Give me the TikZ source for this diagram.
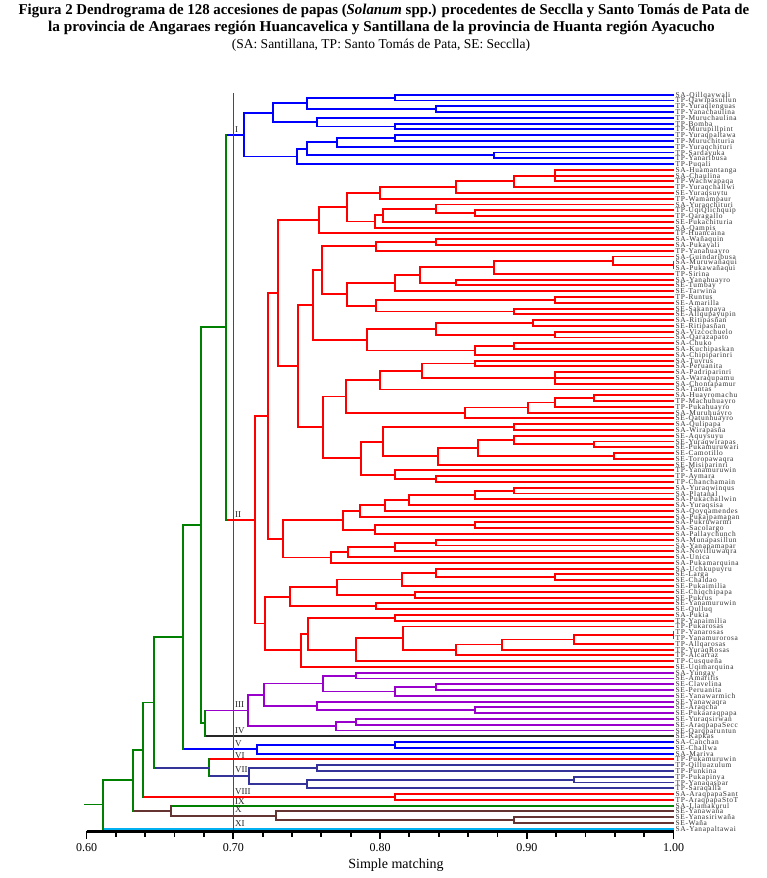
\documentclass[tikz,border=0pt]{standalone}
\usepackage{fontspec}
\usepackage{graphicx}
\setmainfont{Liberation Serif}
\newfontfamily\dlabfont[LetterSpace=8]{Liberation Serif}
\definecolor{cblue}{RGB}{0,0,255}
\definecolor{cpurple}{RGB}{153,0,204}
\definecolor{cnavy}{RGB}{51,51,153}
\definecolor{cgreen}{RGB}{0,128,0}
\definecolor{cbrown}{RGB}{102,51,51}
\definecolor{ccyan}{RGB}{0,176,240}
\tikzset{
 br/.style={line width=1.9pt,line cap=rect},
 clI/.style={draw=cblue},
 clII/.style={draw=red},
 clIII/.style={draw=cpurple},
 clIV/.style={draw=black!85,dash pattern=on 1pt off 0.7pt},
 clVI/.style={draw=red,dash pattern=on 1.4pt off 0.6pt},
 clVII/.style={draw=cnavy},
 clIX/.style={draw=cgreen},
 clX/.style={draw=cbrown},
 clXI/.style={draw=ccyan},
 clG/.style={draw=cgreen},
 leaflab/.style={anchor=base west,inner sep=0pt,xshift=2pt,yshift=-2.5pt,text=black!80,font=\dlabfont\fontsize{7.4}{8}\selectfont},
 cllab/.style={anchor=west,inner sep=0pt,text=black!85,font=\fontsize{9}{10}\selectfont},
 ticklab/.style={inner sep=0pt,font=\fontsize{12}{13}\selectfont},
}
\newcommand\dleaf[3]{%
  \pgfmathsetmacro\dtmpy{94.7+(#1-1)*5.78}%
  \expandafter\xdef\csname dny@L#1\endcsname{\dtmpy}%
  \expandafter\xdef\csname dnc@L#1\endcsname{#3}%
  \coordinate (L#1) at (673.5,\dtmpy);%
  \node[leaflab] (T#1) at (L#1) {#2};%
}
\newcommand\djx[6]{%
  \pgfmathsetmacro\dtmpy{(\csname dny@#3\endcsname+\csname dny@#4\endcsname)/2}%
  \expandafter\xdef\csname dny@#1\endcsname{\dtmpy}%
  \expandafter\xdef\csname dnc@#1\endcsname{#6}%
  \coordinate (#1) at (#2,\dtmpy);%
  \edef\dtmpcmd{%
    \noexpand\draw[br,\csname dnc@#3\endcsname] (#1 |- #3) -- (#3);%
    \noexpand\draw[br,\csname dnc@#4\endcsname] (#1 |- #4) -- (#4);%
    \noexpand\draw[br,#5] (#1 |- #3) -- (#1 |- #4);%
  }\dtmpcmd
}
\newcommand\djn[5]{\djx{#1}{#2}{#3}{#4}{#5}{#5}}
\newcommand\djt[6]{%
  \pgfmathsetmacro\dtmpy{(\csname dny@#3\endcsname+\csname dny@#5\endcsname)/2}%
  \expandafter\xdef\csname dny@#1\endcsname{\dtmpy}%
  \expandafter\xdef\csname dnc@#1\endcsname{#6}%
  \coordinate (#1) at (#2,\dtmpy);%
  \draw[br,#6] (#1 |- #3) -- (#3);%
  \draw[br,#6] (#1 |- #4) -- (#4);%
  \draw[br,#6] (#1 |- #5) -- (#5);%
  \draw[br,#6] (#1 |- #3) -- (#1 |- #5);%
}
\begin{document}
\begin{tikzpicture}[x=1pt,y=-1pt]
\useasboundingbox (0,0) rectangle (766,878);
\fill[white] (0,0) rectangle (766,878);
% title
\node[font=\bfseries\fontsize{15}{17}\selectfont,inner sep=0pt] (title1) at (384,11) {\scalebox{0.99}[1]{Figura 2 Dendrograma de 128 accesiones de papas (\textit{Solanum} spp.) procedentes de Secclla y Santo Tomás de Pata de}};
\node[font=\bfseries\fontsize{15}{17}\selectfont,inner sep=0pt] (title2) at (381.5,28) {\scalebox{1.02}[1]{la provincia de Angaraes región Huancavelica y Santillana de la provincia de Huanta región Ayacucho}};
\node[font=\fontsize{13.5}{15}\selectfont,inner sep=0pt] (title3) at (381,45) {(SA: Santillana, TP: Santo Tomás de Pata, SE: Secclla)};
% leaves
\dleaf{1}{SA-Qillqaywali}{clI}
\dleaf{2}{TP-Qawipasullun}{clI}
\dleaf{3}{TP-Yuraqlenguas}{clI}
\dleaf{4}{TP-Yanachaulina}{clI}
\dleaf{5}{TP-Muruchaulina}{clI}
\dleaf{6}{TP-Bomba}{clI}
\dleaf{7}{TP-Murupillpint}{clI}
\dleaf{8}{TP-Yuraqpaltawa}{clI}
\dleaf{9}{TP-Muruchituria}{clI}
\dleaf{10}{TP-Yuraqchituri}{clI}
\dleaf{11}{TP-Sardayuka}{clI}
\dleaf{12}{TP-Yanaribusa}{clI}
\dleaf{13}{TP-Puqali}{clI}
\dleaf{14}{SA-Huamantanga}{clII}
\dleaf{15}{SA-Chaulina}{clII}
\dleaf{16}{TP-Wachwapaqa}{clII}
\dleaf{17}{TP-Yuraqchallwi}{clII}
\dleaf{18}{SE-Yuraqsuytu}{clII}
\dleaf{19}{TP-Wamampaur}{clII}
\dleaf{20}{SA-Yuraqchituri}{clII}
\dleaf{21}{TP-UqiQiichquip}{clII}
\dleaf{22}{TP-Qaragallo}{clII}
\dleaf{23}{SE-Pukachituria}{clII}
\dleaf{24}{SA-Qampis}{clII}
\dleaf{25}{TP-Huancaina}{clII}
\dleaf{26}{SA-Wañaquin}{clII}
\dleaf{27}{SA-Pukayali}{clII}
\dleaf{28}{TP-Yanahuayro}{clII}
\dleaf{29}{SA-Guindaribusa}{clII}
\dleaf{30}{SA-Muruwañaqui}{clII}
\dleaf{31}{SA-Pukawañaqui}{clII}
\dleaf{32}{TP-Sirina}{clII}
\dleaf{33}{SA-Yanahuayro}{clII}
\dleaf{34}{SE-Tumbay}{clII}
\dleaf{35}{SE-Tarwina}{clII}
\dleaf{36}{TP-Runtus}{clII}
\dleaf{37}{SE-Amarilla}{clII}
\dleaf{38}{SE-Sakanpaya}{clII}
\dleaf{39}{SE-Allqupayupin}{clII}
\dleaf{40}{SA-Ritipasñan}{clII}
\dleaf{41}{SE-Ritipasñan}{clII}
\dleaf{42}{SA-Vizcochuelo}{clII}
\dleaf{43}{SA-Qarazapato}{clII}
\dleaf{44}{SA-Chuko}{clII}
\dleaf{45}{SA-Kuchipaskan}{clII}
\dleaf{46}{SA-Chipiparinri}{clII}
\dleaf{47}{SA-Tuyrus}{clII}
\dleaf{48}{SA-Peruanita}{clII}
\dleaf{49}{SA-Padriparinri}{clII}
\dleaf{50}{SA-Waraqupamu}{clII}
\dleaf{51}{SA-Chontapamur}{clII}
\dleaf{52}{SA-Tantas}{clII}
\dleaf{53}{SA-Huayromachu}{clII}
\dleaf{54}{TP-Machuhuayro}{clII}
\dleaf{55}{TP-Pukahuayro}{clII}
\dleaf{56}{SA-Muruhuayro}{clII}
\dleaf{57}{SE-Qatunhuayro}{clII}
\dleaf{58}{SA-Qulipapa}{clII}
\dleaf{59}{SA-Wirapasña}{clII}
\dleaf{60}{SE-Aquysuyu}{clII}
\dleaf{61}{SE-Yuraqwirapas}{clII}
\dleaf{62}{SE-Pukamuruwari}{clII}
\dleaf{63}{SE-Camotillo}{clII}
\dleaf{64}{SE-Toropawaqra}{clII}
\dleaf{65}{SE-Misiparinri}{clII}
\dleaf{66}{TP-Yanamuruwin}{clII}
\dleaf{67}{TP-Aymara}{clII}
\dleaf{68}{TP-Chanchamain}{clII}
\dleaf{69}{SA-Yuraqwinqus}{clII}
\dleaf{70}{SA-Platanal}{clII}
\dleaf{71}{SA-Pukachallwin}{clII}
\dleaf{72}{SA-Yuraqsisa}{clII}
\dleaf{73}{SA-Qoyqamendes}{clII}
\dleaf{74}{SA-Pukajpamapan}{clII}
\dleaf{75}{SA-Pukruwarmi}{clII}
\dleaf{76}{SA-Sacolargo}{clII}
\dleaf{77}{SA-Pallaychunch}{clII}
\dleaf{78}{SA-Munapasillun}{clII}
\dleaf{79}{SA-Yanapamapar}{clII}
\dleaf{80}{SA-Novilluwaqra}{clII}
\dleaf{81}{SA-Unica}{clII}
\dleaf{82}{SA-Pukamarquina}{clII}
\dleaf{83}{SA-Uchkupuyru}{clII}
\dleaf{84}{SE-Larga}{clII}
\dleaf{85}{SE-Chaldao}{clII}
\dleaf{86}{SE-Pukaimilia}{clII}
\dleaf{87}{SE-Chiqchipapa}{clII}
\dleaf{88}{SE-Pukrus}{clII}
\dleaf{89}{SE-Yanamuruwin}{clII}
\dleaf{90}{SE-Qulluq}{clII}
\dleaf{91}{SA-Pukia}{clII}
\dleaf{92}{TP-Yanaimilia}{clII}
\dleaf{93}{TP-Pukarosas}{clII}
\dleaf{94}{TP-Yanarosas}{clII}
\dleaf{95}{TP-Yanamurorosa}{clII}
\dleaf{96}{TP-Allqarosas}{clII}
\dleaf{97}{TP-YuraqRosas}{clII}
\dleaf{98}{TP-Alcarraz}{clII}
\dleaf{99}{TP-Cusqueña}{clII}
\dleaf{100}{SE-Uqimarquina}{clII}
\dleaf{101}{SA-Yungay}{clIII}
\dleaf{102}{SE-Amarilis}{clIII}
\dleaf{103}{SE-Clavelina}{clIII}
\dleaf{104}{SE-Peruanita}{clIII}
\dleaf{105}{SE-Yanawarmich}{clIII}
\dleaf{106}{SE-Yanawaqra}{clIII}
\dleaf{107}{SE-Araqcha}{clIII}
\dleaf{108}{SE-Pukaaraqpapa}{clIII}
\dleaf{109}{SE-Yuraqsirwan}{clIII}
\dleaf{110}{SE-AraqpapaSecc}{clIII}
\dleaf{111}{SE-Qarqparuntun}{clIII}
\dleaf{112}{SE-Kapkas}{clIV}
\dleaf{113}{SA-Canchan}{clI}
\dleaf{114}{SE-Challwa}{clI}
\dleaf{115}{SA-Mariva}{clI}
\dleaf{116}{TP-Pukamuruwin}{clVI}
\dleaf{117}{TP-Qilluazulum}{clVII}
\dleaf{118}{TP-Punkina}{clVII}
\dleaf{119}{TP-Pukapinya}{clVII}
\dleaf{120}{TP-Yanaqaspar}{clVII}
\dleaf{121}{TP-Saraqalla}{clVII}
\dleaf{122}{SA-AraqpapaSant}{clII}
\dleaf{123}{TP-AraqpapaStoT}{clII}
\dleaf{124}{SA-Llamakurul}{clIX}
\dleaf{125}{SE-Yanawaña}{clX}
\dleaf{126}{SE-Yanasiriwaña}{clX}
\dleaf{127}{SE-Waña}{clX}
\dleaf{128}{SA-Yanapaltawai}{clXI}
% cluster I
\djn{i12}{395}{L1}{L2}{clI}
\djn{i34}{435.7}{L3}{L4}{clI}
\djn{iA}{306.7}{i12}{i34}{clI}
\djn{i67}{395}{L6}{L7}{clI}
\djn{iB}{316.7}{L5}{i67}{clI}
\djn{iC}{273}{iA}{iB}{clI}
\djn{i89}{395}{L8}{L9}{clI}
\djn{iD}{336.7}{i89}{L10}{clI}
\djn{i1112}{494}{L11}{L12}{clI}
\djn{iE}{306.7}{iD}{i1112}{clI}
\djn{iF}{296.7}{iE}{L13}{clI}
\djn{nI}{244}{iC}{iF}{clI}
% cluster II
\djt{ra1}{555}{L14}{L15}{L16}{clII}
\djn{ra2}{514}{ra1}{L17}{clII}
\djn{ra3}{456}{ra2}{L18}{clII}
\djn{ra4}{380}{ra3}{L19}{clII}
\djn{rb1}{475}{L21}{L22}{clII}
\djn{rb2}{436}{L20}{rb1}{clII}
\djn{rb3}{382.7}{rb2}{L23}{clII}
\djn{rb4}{375}{rb3}{L24}{clII}
\djn{rc}{347.3}{ra4}{rb4}{clII}
\djn{rd}{319.3}{rc}{L25}{clII}
\djn{rg1}{436}{L26}{L27}{clII}
\djn{rg2}{376}{rg1}{L28}{clII}
\djn{rh1}{673.5}{L30}{L31}{clII}
\djn{rh2}{613.3}{L29}{rh1}{clII}
\djn{rh3}{494}{rh2}{L32}{clII}
\djn{rh4}{456}{L33}{L34}{clII}
\djn{rh5}{420}{rh3}{rh4}{clII}
\djn{rh6}{395}{rh5}{L35}{clII}
\djn{ri1}{555}{L36}{L37}{clII}
\djn{ri2}{514}{L38}{L39}{clII}
\djn{ri3}{376}{ri1}{ri2}{clII}
\djn{rj}{347.3}{rh6}{ri3}{clII}
\djn{rk}{321.7}{rg2}{rj}{clII}
\djn{rn0}{533.3}{L40}{L41}{clII}
\djn{rn0b}{555}{L42}{L43}{clII}
\djn{rn1}{436}{rn0}{rn0b}{clII}
\djn{rn2a}{514}{L44}{L45}{clII}
\djn{rn2}{475}{rn2a}{L46}{clII}
\djn{rm}{366.7}{rn1}{rn2}{clII}
\djn{rl}{313.3}{rk}{rm}{clII}
\djn{ro1}{475}{L47}{L48}{clII}
\djt{ro2}{555}{L49}{L50}{L51}{clII}
\djn{ro3}{421.7}{ro1}{ro2}{clII}
\djn{ro4}{380}{ro3}{L52}{clII}
\djn{rp1}{594}{L53}{L54}{clII}
\djn{rp2}{555}{rp1}{L55}{clII}
\djn{rp3}{528.3}{rp2}{L56}{clII}
\djn{rp4}{465}{rp3}{L57}{clII}
\djn{rq}{346}{ro4}{rp4}{clII}
\djn{rr1}{514}{L58}{L59}{clII}
\djn{rr2a}{594}{L61}{L62}{clII}
\djn{rr2}{514}{L60}{rr2a}{clII}
\djn{rr3}{614}{L63}{L64}{clII}
\djn{rr4}{477.7}{rr2}{rr3}{clII}
\djn{rr5}{438.3}{rr4}{L65}{clII}
\djn{rr6}{382.7}{rr1}{rr5}{clII}
\djn{rs1}{436}{L67}{L68}{clII}
\djn{rs2}{395}{L66}{rs1}{clII}
\djn{rt}{360.7}{rr6}{rs2}{clII}
\djn{ru}{323.3}{rq}{rt}{clII}
\djn{rf}{298.3}{rl}{ru}{clII}
\djn{re}{277.7}{rd}{rf}{clII}
\djn{rw1}{514}{L69}{L70}{clII}
\djn{rw2}{475}{rw1}{L71}{clII}
\djn{rw3}{409.3}{rw2}{L72}{clII}
\djn{rw4}{385}{rw3}{L73}{clII}
\djn{rw5}{360}{rw4}{L74}{clII}
\djn{rx1}{475}{L75}{L76}{clII}
\djn{rx2}{375}{rx1}{L77}{clII}
\djn{rw6}{342.7}{rw5}{rx2}{clII}
\djn{ry1}{436}{L78}{L79}{clII}
\djn{ry2}{395}{ry1}{L80}{clII}
\djn{ry3}{348.3}{ry2}{L81}{clII}
\djn{ry4}{330.7}{ry3}{L82}{clII}
\djn{rw7}{283.3}{rw6}{ry4}{clII}
\djn{rv}{267.7}{re}{rw7}{clII}
\djn{rz7}{555}{L84}{L85}{clII}
\djn{rz6}{436}{L83}{rz7}{clII}
\djn{rz4}{402.3}{rz6}{L86}{clII}
\djn{rz5}{415}{L87}{L88}{clII}
\djn{rz2}{336.7}{rz4}{rz5}{clII}
\djn{rz3}{376}{L89}{L90}{clII}
\djn{rz1}{290}{rz2}{rz3}{clII}
\djn{rz9}{395}{L91}{L92}{clII}
\djn{rz15}{673.5}{L94}{L95}{clII}
\djn{rz14}{574.3}{rz15}{L96}{clII}
\djn{rz13}{501.7}{rz14}{L97}{clII}
\djn{rz12}{456}{rz13}{L98}{clII}
\djn{rz11}{403.3}{L93}{rz12}{clII}
\djn{rz10}{356}{rz11}{L99}{clII}
\djn{rz8}{308.3}{rz9}{rz10}{clII}
\djn{rz16}{301}{rz8}{L100}{clII}
\djn{rz}{265}{rz1}{rz16}{clII}
\djn{nII}{255}{rv}{rz}{clII}
% cluster III
\djn{p101}{356}{L101}{L102}{clIII}
\djn{p103}{435.7}{L103}{L104}{clIII}
\djn{p105}{395}{p103}{L105}{clIII}
\djn{p106}{322.7}{p101}{p105}{clIII}
\djn{p107}{475}{L107}{L108}{clIII}
\djn{p108}{316.7}{L106}{p107}{clIII}
\djn{p109}{264}{p106}{p108}{clIII}
\djn{p110}{356}{L109}{L110}{clIII}
\djn{p111}{336}{p110}{L111}{clIII}
\djn{nIII}{247.7}{p109}{p111}{clIII}
% V, VII, VIII, X
\djn{v1}{395}{L113}{L114}{clI}
\djn{nV}{256.7}{v1}{L115}{clI}
\djn{s117}{316.7}{L117}{L118}{clVII}
\djn{s119}{574}{L119}{L120}{clVII}
\djn{s121}{306.7}{s119}{L121}{clVII}
\djn{nVII}{249.3}{s117}{s121}{clVII}
\djn{nVIII}{395}{L122}{L123}{clII}
\djn{x126}{514}{L126}{L127}{clX}
\djn{nX}{276}{L125}{x126}{clX}
% upper levels
\djx{G1}{225.7}{nI}{nII}{clG}{clG}
\djx{G2}{205}{nIII}{L112}{clG}{clG}
\djx{G3}{200.7}{G1}{G2}{clG}{clG}
\djx{G4}{182.7}{G3}{nV}{clG}{clG}
\djx{G5}{209}{L116}{nVII}{clG}{clVII}
\djx{G6}{154.3}{G4}{G5}{clG}{clG}
\djx{G7}{142.7}{G6}{nVIII}{clG}{clG}
\djx{G8}{170.7}{L124}{nX}{clX}{clX}
\djx{G9}{132.7}{G7}{G8}{clG}{clG}
\djx{root}{103.3}{G9}{L128}{clG}{clG}
\coordinate (rootstub) at (85,\csname dny@root\endcsname);
\draw[br,clG] (rootstub) -- (root);
% reference line at 0.70
\coordinate (reftop) at (233,93);
\coordinate (refbot) at (233,831);
\draw[red,line width=1pt] (reftop) -- (refbot);
% cluster labels
\node[cllab] (kI) at (235,129.7) {I};
\node[cllab] (kII) at (235,515) {II};
\node[cllab] (kIII) at (235,704.5) {III};
\node[cllab] (kIV) at (235,730.5) {IV};
\node[cllab] (kV) at (235,743.3) {V};
\node[cllab] (kVI) at (235,755.3) {VI};
\node[cllab] (kVII) at (235,770) {VII};
\node[cllab] (kVIII) at (235,791.7) {VIII};
\node[cllab] (kIX) at (235,801.7) {IX};
\node[cllab] (kX) at (235,810) {X};
\node[cllab] (kXI) at (235,824) {XI};
% axis
\coordinate (ax0) at (86.5,831);
\coordinate (ax1) at (673.5,831);
\draw[line width=3pt] (ax0) -- (ax1);
\foreach \k in {0,...,20}{
  \pgfmathsetmacro\tx{86.5+\k*29.35}
  \draw[line width=1.8pt] (\tx,831) -- (\tx,836.5);
}
\foreach \k/\lab in {0/0.60,5/0.70,10/0.80,15/0.90,20/1.00}{
  \pgfmathsetmacro\tx{86.5+\k*29.35}
  \draw[line width=1.8pt] (\tx,831) -- (\tx,838.5);
  \node[ticklab] at (\tx,848) {\lab};
}
\node[font=\fontsize{14}{16}\selectfont,inner sep=0pt] (xlab) at (396,865) {Simple matching};
\end{tikzpicture}
\end{document}
